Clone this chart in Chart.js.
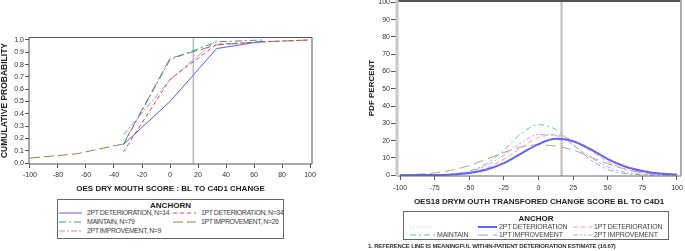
<!DOCTYPE html>
<html>
<head>
<meta charset="utf-8">
<script src="https://cdn.jsdelivr.net/npm/chart.js@4.4.1/dist/chart.umd.min.js"></script>
<style>
  body { margin: 0; background: #fff; }
  #wrap { position: relative; width: 685px; height: 251px; overflow: hidden; background: #fff;
          font-family: "Liberation Sans Narrow", "Liberation Sans", Arial, sans-serif; color: #333; }
  #wrap canvas { position: absolute; }
  .legend { position: absolute; border: 1px solid #666; box-sizing: border-box; background: #fff; }
  .legend .ttl { position: absolute; left: 0; right: 0; text-align: center; font-weight: bold; font-size: 8px; line-height: 9px; color: #222; }
  .item { position: absolute; font-size: 7px; line-height: 8px; white-space: nowrap; color: #444; }
  #cdfLegend .item { letter-spacing: -0.45px; }
  #pdfLegend .item { letter-spacing: -0.2px; }
  svg.sample { position: absolute; overflow: visible; }
  #note { position: absolute; left: 368px; top: 243px; font-size: 6px; font-weight: bold; white-space: nowrap; color: #333; letter-spacing: -0.17px; }
</style>
</head>
<body>
<div id="wrap">
  <canvas id="cdfChart" width="330" height="200" style="left:0;top:0;width:330px;height:200px"></canvas>
  <canvas id="pdfChart" width="345" height="208" style="left:340px;top:0;width:345px;height:208px"></canvas>
  <div class="legend" id="cdfLegend" style="left:57px;top:199px;width:227px;height:40px">
    <div class="ttl" style="top:1px">ANCHORN</div>
  </div>
  <div class="legend" id="pdfLegend" style="left:403px;top:211px;width:266px;height:29px">
    <div class="ttl" style="top:2px">ANCHOR</div>
  </div>
  <div id="note">1. REFERENCE LINE IS MEANINGFUL WITHIN-PATIENT DETERIORATION ESTIMATE (16.67)</div>
</div>
<script>
// reference line (meaningful within-patient deterioration)
const refValue = 16.67;

// left chart: cumulative probability by change score
const cdfScores   = [-100, -66.7, -33.3, 0, 33.3, 66.7, 100];
const cdf2ptDet   = [null, null, 0.15, 0.50, 0.93, 0.99, null];
const cdf1ptDet   = [null, null, 0.09, 0.68, 0.965, 0.985, 1.0];
const cdfMaintain = [null, null, 0.15, 0.84, 0.985, 1.0, null];
const cdf1ptImp   = [0.04, 0.075, 0.155, 0.85, 0.96, 0.985, 1.0];
const cdf2ptImp   = [null, null, 0.23, 0.675, 1.0, null, null];
const cdfXTicks = [-100, -80, -60, -40, -20, 0, 20, 40, 60, 80, 100];
const cdfYTicks = [0, 0.1, 0.2, 0.3, 0.4, 0.5, 0.6, 0.7, 0.8, 0.9, 1.0];

// right chart: pdf percent by transformed change score
const pdfScores   = [-100, -87.5, -75, -62.5, -50, -37.5, -25, -12.5, 0, 12.5, 25, 37.5, 50, 62.5, 75, 87.5, 100];
const pdf2ptDet   = [0.0, 0.02, 0.1, 0.4, 1.3, 3.3, 7.0, 12.5, 18.0, 21.0, 19.6, 15.0, 9.3, 5.0, 2.4, 0.9, 0.3];
const pdf1ptDet   = [0.0, 0.02, 0.1, 0.4, 1.5, 4.1, 9.2, 15.9, 21.8, 23.4, 20.0, 14.0, 7.8, 3.5, 1.3, 0.4, 0.1];
const pdfMaintain = [0.0, 0.02, 0.1, 0.6, 2.3, 6.7, 14.5, 24.0, 29.2, 26.4, 17.8, 8.9, 3.3, 0.9, 0.2, 0.03, 0.0];
const pdf1ptImp   = [0.2, 0.5, 1.3, 2.9, 5.6, 9.2, 13.1, 16.3, 17.5, 16.8, 14.5, 10.5, 6.6, 3.5, 1.5, 0.6, 0.2];
const pdf2ptImp   = [0.0, 0.03, 0.14, 0.6, 2.1, 5.7, 11.7, 18.8, 23.5, 22.9, 17.4, 10.3, 4.8, 1.7, 0.5, 0.12, 0.03];
const pdfXTicks = [-100, -75, -50, -25, 0, 25, 50, 75, 100];
const pdfYTicks = [0, 10, 20, 30, 40, 50, 60, 70, 80, 90, 100];

const FONT = '"Liberation Sans Narrow", "Liberation Sans", Arial, sans-serif';

const toPoints = (xs, ys) => xs.map((x, i) => ({ x: x, y: ys[i] }));

const cdfSeries = [
    { label: '2PT DETERIORATION, N=14', data: cdf2ptDet, color: '#5a5af0', dash: [], lx: 59, ly: 213 },
    { label: '1PT DETERIORATION, N=34', data: cdf1ptDet, color: '#d84848', dash: [4, 3], lx: 173, ly: 213 },
    { label: 'MAINTAIN, N=79', data: cdfMaintain, color: '#3a9a88', dash: [7, 3, 2, 3], lx: 59, ly: 222 },
    { label: '1PT IMPROVEMENT, N=26', data: cdf1ptImp, color: '#9a7a5a', dash: [10, 4], lx: 173, ly: 222 },
    { label: '2PT IMPROVEMENT, N=9', data: cdf2ptImp, color: '#c080f0', dash: [6, 2, 2, 2], lx: 59, ly: 231 }
];

const pdfSeries = [
    { label: '', data: null, color: '#d0d0d0', dash: [1, 2], width: 1, lx: 410, ly: 227, len: 20 },
    { label: '2PT DETERIORATION', data: pdf2ptDet, color: '#6262ff', dash: [], width: 2, lx: 478, ly: 227, len: 19 },
    { label: '1PT DETERIORATION', data: pdf1ptDet, color: '#f0a0a8', dash: [5, 3], width: 1, lx: 573, ly: 227, len: 19 },
    { label: 'MAINTAIN', data: pdfMaintain, color: '#70c0b0', dash: [6, 3, 2, 3], width: 1, lx: 410, ly: 235, len: 25 },
    { label: '1PT IMPROVEMENT', data: pdf1ptImp, color: '#b8a088', dash: [10, 5], width: 1, lx: 478, ly: 235, len: 19 },
    { label: '2PT IMPROVEMENT', data: pdf2ptImp, color: '#c8a0f8', dash: [5, 2, 2, 2, 2, 2], width: 1, lx: 573, ly: 235, len: 19 }
];

// frame + reference line, drawn with the chart scales
const framePlugin = {
    id: 'frame',
    beforeDatasetsDraw(chart, args, opts) {
        const { ctx, chartArea: a, scales } = chart;
        const px = scales.x.getPixelForValue(refValue);
        ctx.save();
        ctx.strokeStyle = opts.refColor;
        ctx.lineWidth = opts.refWidth;
        ctx.beginPath();
        ctx.moveTo(px, a.top);
        ctx.lineTo(px, a.bottom);
        ctx.stroke();
        ctx.restore();
    },
    afterDatasetsDraw(chart, args, opts) {
        const { ctx, chartArea: a } = chart;
        ctx.save();
        opts.sides.forEach(s => {
            ctx.strokeStyle = s.color;
            ctx.lineWidth = s.width;
            ctx.beginPath();
            if (s.side === 'top') { ctx.moveTo(a.left, a.top + s.width / 2); ctx.lineTo(a.right, a.top + s.width / 2); }
            if (s.side === 'bottom') { ctx.moveTo(a.left, a.bottom); ctx.lineTo(a.right, a.bottom); }
            if (s.side === 'left') { ctx.moveTo(a.left, a.top); ctx.lineTo(a.left, a.bottom); }
            if (s.side === 'right') { ctx.moveTo(a.right, a.top); ctx.lineTo(a.right, a.bottom); }
            ctx.stroke();
        });
        ctx.restore();
    }
};

function tickAxis(ticks, extra) {
    return Object.assign({
        type: 'linear',
        border: { display: false },
        grid: { drawOnChartArea: false, drawTicks: true, tickLength: 4, color: '#555' },
        afterBuildTicks: s => { s.ticks = ticks.map(v => ({ value: v })); }
    }, extra);
}

new Chart(document.getElementById('cdfChart'), {
    type: 'line',
    data: {
        datasets: cdfSeries.map(s => ({
            label: s.label,
            data: toPoints(cdfScores, s.data),
            borderColor: s.color,
            borderDash: s.dash,
            borderWidth: 1,
            pointRadius: 0,
            tension: 0,
            spanGaps: false
        }))
    },
    options: {
        responsive: false,
        animation: false,
        devicePixelRatio: 1,
        layout: { padding: { left: 0, right: 18, top: 37, bottom: 0 } },
        plugins: {
            legend: { display: false },
            tooltip: { enabled: false },
            frame: { refColor: '#b8b8b8', refWidth: 1.5, sides: [
                { side: 'top', color: '#555', width: 1 }, { side: 'bottom', color: '#555', width: 1 },
                { side: 'left', color: '#555', width: 1 }, { side: 'right', color: '#555', width: 1 }] }
        },
        scales: {
            x: tickAxis(cdfXTicks, {
                min: -100.7, max: 101.4,
                ticks: { padding: 3, color: '#333', font: { family: FONT, size: 7 } },
                title: { display: true, text: 'OES DRY MOUTH SCORE : BL TO C4D1 CHANGE', color: '#222',
                         font: { family: FONT, size: 8, weight: 'bold' }, padding: { top: 0, bottom: 6 } },
                afterFit: s => { s.height = 36; s.paddingLeft = 0; s.paddingRight = 0; }
            }),
            y: tickAxis(cdfYTicks, {
                min: -0.008, max: 1.024,
                ticks: { padding: 1, color: '#333', font: { family: FONT, size: 7 }, callback: v => v.toFixed(1) },
                title: { display: true, text: 'CUMULATIVE PROBABILITY', color: '#222',
                         font: { family: FONT, size: 8.5, weight: 'bold' }, padding: { top: 0, bottom: 0 } },
                afterFit: s => { s.width = 29; s.paddingTop = 0; s.paddingBottom = 0; }
            })
        }
    },
    plugins: [framePlugin]
});

new Chart(document.getElementById('pdfChart'), {
    type: 'line',
    data: {
        datasets: pdfSeries.filter(s => s.data).map(s => ({
            label: s.label,
            data: toPoints(pdfScores, s.data),
            borderColor: s.color,
            borderDash: s.dash,
            borderWidth: s.width,
            pointRadius: 0,
            cubicInterpolationMode: 'monotone'
        }))
    },
    options: {
        responsive: false,
        animation: false,
        devicePixelRatio: 1,
        layout: { padding: { left: 0, right: 4, top: 0, bottom: 0 } },
        plugins: {
            legend: { display: false },
            tooltip: { enabled: false },
            frame: { refColor: '#c8c8c8', refWidth: 2.5, sides: [
                { side: 'top', color: '#555', width: 2 }, { side: 'bottom', color: '#666', width: 1 },
                { side: 'left', color: '#c8c8c8', width: 3 }, { side: 'right', color: '#aaa', width: 2 }] }
        },
        scales: {
            x: tickAxis(pdfXTicks, {
                min: -102.2, max: 102.9,
                grid: { drawOnChartArea: false, drawTicks: true, tickLength: 4, color: '#555' },
                ticks: { padding: 4, color: '#333', font: { family: FONT, size: 7 } },
                title: { display: true, text: 'OES18 DRYM OUTH TRANSFORED CHANGE SCORE BL TO C4D1', color: '#222',
                         font: { family: FONT, size: 8, weight: 'bold' }, padding: { top: 0, bottom: 1 } },
                afterFit: s => { s.height = 32; s.paddingLeft = 0; s.paddingRight = 0; }
            }),
            y: tickAxis(pdfYTicks, {
                min: -0.5, max: 101.4,
                grid: { drawOnChartArea: false, drawTicks: true, tickLength: 6, color: '#555' },
                ticks: { padding: 1, color: '#333', font: { family: FONT, size: 7 } },
                title: { display: true, text: 'PDF PERCENT', color: '#222',
                         font: { family: FONT, size: 8, weight: 'bold' }, padding: { top: 27, bottom: 0 } },
                afterFit: s => { s.width = 57; s.paddingTop = 0; s.paddingBottom = 0; }
            })
        }
    },
    plugins: [framePlugin]
});

// legends below each chart
function sampleLine(s, len, width) {
    const ns = 'http://www.w3.org/2000/svg';
    const svg = document.createElementNS(ns, 'svg');
    svg.setAttribute('class', 'sample');
    svg.setAttribute('width', len);
    svg.setAttribute('height', 4);
    const line = document.createElementNS(ns, 'line');
    line.setAttribute('x1', 0); line.setAttribute('x2', len);
    line.setAttribute('y1', 2); line.setAttribute('y2', 2);
    line.setAttribute('stroke', s.color);
    line.setAttribute('stroke-width', width);
    if (s.dash.length) line.setAttribute('stroke-dasharray', s.dash.join(' '));
    svg.appendChild(line);
    return svg;
}

function buildLegend(id, series, box, defLen, gap) {
    const el = document.getElementById(id);
    series.forEach(s => {
        const len = s.len || defLen;
        const svg = sampleLine(s, len, s.width || 1);
        svg.style.left = (s.lx - box.left - 1) + 'px';
        svg.style.top = (s.ly - box.top - 3) + 'px';
        el.appendChild(svg);
        if (s.label) {
            const t = document.createElement('div');
            t.className = 'item';
            t.textContent = s.label;
            t.style.left = (s.lx + len + gap - box.left - 1) + 'px';
            t.style.top = (s.ly - box.top - 5) + 'px';
            el.appendChild(t);
        }
    });
}

buildLegend('cdfLegend', cdfSeries, { left: 57, top: 199 }, 23, 5);
buildLegend('pdfLegend', pdfSeries, { left: 403, top: 211 }, 19, 2);
</script>
</body>
</html>
